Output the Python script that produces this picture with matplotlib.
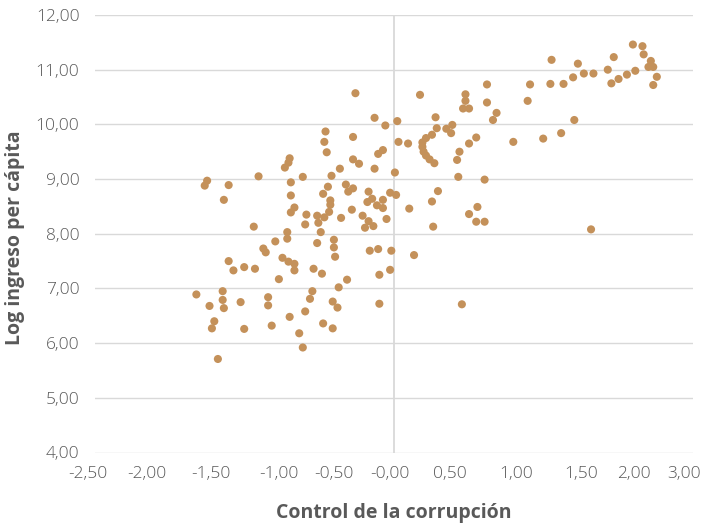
import matplotlib
matplotlib.use("Agg")
import matplotlib.pyplot as plt

# === Données ===
control_corrupcion = [
    -0.58, -0.56, -0.34, -0.87, -0.88, -0.91, -0.13, -0.34, -0.29, -0.16,
    -0.45, -0.52, -0.76, -1.13, -1.56, -1.58, -1.38, -1.42, -0.86, -0.55,
    -0.40, -0.38, -0.34, -0.59, -0.21, -0.22, -0.18, -0.14, -0.09, -0.09,
    -0.86, -0.53, -0.53, -0.83, -0.86, -0.54, -0.58, -0.64, -0.63, -0.73,
    -0.74, -0.35, -0.44, -0.26, -0.21, -0.24, -0.17, -1.17, -0.89, -0.89,
    -0.61, -0.99, -0.64, -0.50, -0.50, -1.09, -1.07, -0.49, -0.20, -0.13,
    -0.93, -0.88, -0.83, -0.83, -1.38, -1.34, -1.25, -1.16, -0.67, -0.60,
    -0.96, -0.39, -0.46, -0.12, -1.65, -1.43, -1.43, -1.42, -1.54, -1.28,
    -1.05, -1.05, -0.68, -0.70, -0.51, -0.47, -0.74, -0.87, -1.50, -1.52,
    -1.25, -1.02, -0.59, -0.51, -0.79, -0.12, -0.76, -1.47, -0.32, -0.57,
    0.78, 1.14, 1.31, 1.42, 0.22, 0.60, 0.60, 0.58, 0.63, 0.78,
    1.12, 0.86, 0.83, -0.16, -0.07, 0.03, 0.35, 0.36, 0.32, 0.44,
    0.49, 0.48, 0.69, 0.63, 1.00, 1.25, 1.40, 0.04, 0.12, 0.27,
    0.24, 0.24, 0.25, 0.27, 0.30, 0.34, 0.55, 0.53, -0.09, 0.01,
    0.54, 0.76, 0.37, 0.32, -0.03, 0.02, 0.13, 0.70, 0.63, -0.06,
    0.69, 0.76, 0.33, -0.02, 0.17, -0.03, 0.57,
    2.00, 2.08, 2.09, 1.84, 1.32, 1.54, 2.15, 2.13, 2.17, 1.79,
    2.02, 1.95, 1.88, 1.82, 1.67, 1.59, 1.50, 2.20, 2.17, 1.51, 1.65,
]
log_ingreso = [
    9.68, 9.49, 9.77, 9.38, 9.30, 9.21, 9.46, 9.36, 9.28, 9.19,
    9.19, 9.06, 9.04, 9.05, 8.97, 8.88, 8.89, 8.62, 8.94, 8.86,
    8.90, 8.77, 8.83, 8.73, 8.77, 8.58, 8.64, 8.52, 8.62, 8.47,
    8.70, 8.61, 8.53, 8.48, 8.39, 8.40, 8.30, 8.33, 8.20, 8.35,
    8.17, 8.44, 8.29, 8.33, 8.23, 8.11, 8.14, 8.13, 8.03, 7.91,
    8.03, 7.86, 7.83, 7.89, 7.75, 7.73, 7.66, 7.58, 7.69, 7.72,
    7.56, 7.49, 7.45, 7.33, 7.50, 7.33, 7.39, 7.36, 7.36, 7.27,
    7.17, 7.16, 7.02, 7.25, 6.89, 6.95, 6.79, 6.64, 6.68, 6.75,
    6.84, 6.69, 6.95, 6.81, 6.76, 6.65, 6.58, 6.48, 6.40, 6.27,
    6.26, 6.32, 6.36, 6.27, 6.18, 6.72, 5.92, 5.71, 10.57, 9.87,
    10.73, 10.73, 10.74, 10.74, 10.54, 10.55, 10.43, 10.29, 10.29, 10.40,
    10.43, 10.21, 10.08, 10.12, 9.98, 10.06, 10.13, 9.93, 9.81, 9.92,
    9.99, 9.84, 9.76, 9.65, 9.68, 9.74, 9.84, 9.68, 9.65, 9.75,
    9.67, 9.59, 9.50, 9.43, 9.36, 9.29, 9.50, 9.35, 9.53, 9.12,
    9.04, 8.99, 8.78, 8.59, 8.75, 8.71, 8.46, 8.49, 8.36, 8.27,
    8.22, 8.22, 8.13, 7.69, 7.61, 7.34, 6.71,
    11.46, 11.43, 11.28, 11.23, 11.18, 11.11, 11.16, 11.05, 11.05, 11.00,
    10.98, 10.91, 10.83, 10.75, 10.93, 10.93, 10.86, 10.87, 10.72, 10.08, 8.08,
]

# étiquettes de l'axe x telles qu'affichées (positions un peu décalées dans l'original)
x_tick_labels = ["-2,50", "-2,00", "-1,50", "-1,00", "-0,50", "-0,00",
                 "0,50", "1,00", "1,50", "2,00", "3,00"]
x_tick_pos = [-2.56, -2.06, -1.53, -0.96, -0.50, -0.03,
              0.47, 1.02, 1.57, 2.01, 2.43]
y_ticks = [4, 5, 6, 7, 8, 9, 10, 11, 12]

GRID = "#d9d9d9"
TXT = "#595959"
DOT = "#c4915a"

plt.rcParams["font.family"] = ["Open Sans", "DejaVu Sans"]

fig = plt.figure(figsize=(7.15, 5.23), dpi=100)
ax = fig.add_axes([94.7 / 715, 1 - 452.5 / 523, 598 / 715, 437.5 / 523])

ax.set_xlim(-2.5, 2.5)
ax.set_ylim(4, 12)

for yv in y_ticks:
    ax.axhline(yv, color=GRID, lw=1.0, zorder=0)
ax.axvline(0, color=GRID, lw=1.3, zorder=0)

ax.scatter(control_corrupcion, log_ingreso, s=34, color=DOT, edgecolors="none", zorder=3)

for s in ax.spines.values():
    s.set_visible(False)
ax.set_xticks([])
ax.set_yticks(y_ticks)
ax.set_yticklabels([f"{v:.2f}".replace(".", ",") for v in y_ticks])
ax.tick_params(axis="y", length=0, pad=11, labelsize=12.5, labelcolor=TXT)
for lab in ax.get_yticklabels():
    lab.set_fontweight("light")

# étiquettes x posées à la main
for p, t in zip(x_tick_pos, x_tick_labels):
    ax.text(p, -0.05, t, transform=ax.get_xaxis_transform(), ha="center", va="center",
            fontsize=12.5, color=TXT, fontweight="light", clip_on=False)

fig.text(393.5 / 715, 1 - 513 / 523, "Control de la corrupción", ha="center", va="center",
         fontsize=14, fontweight="bold", color=TXT)
fig.text(15 / 715, 1 - 238 / 523, "Log ingreso per cápita", ha="center", va="center",
         rotation=90, fontsize=14, fontweight="bold", color=TXT)

fig.savefig("out.png", dpi=100)
